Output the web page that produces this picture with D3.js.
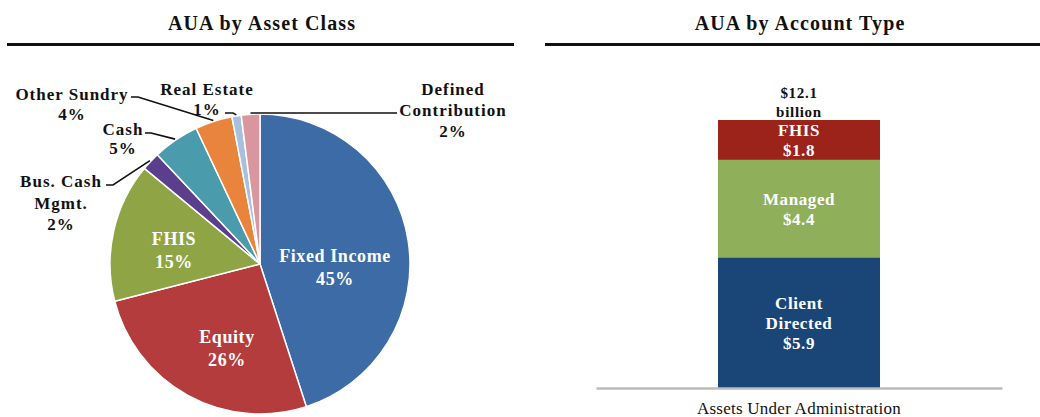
<!DOCTYPE html>
<html>
<head>
<meta charset="utf-8">
<script src="https://cdn.jsdelivr.net/npm/d3@7"></script>
<style>
  html, body { margin: 0; padding: 0; background: #fff; }
  svg { display: block; }
</style>
</head>
<body>
<svg id="chart" width="1040" height="417"></svg>
<script>
// ---- Data ----
const pieCategories = ["Fixed Income", "Equity", "FHIS", "Bus. Cash Mgmt.", "Cash", "Other Sundry", "Real Estate", "Defined Contribution"];
const pieValues = [45, 26, 15, 2, 5, 4, 1, 2];
const pieColors = ["#3d6ba6", "#b53c3c", "#8fa545", "#5b3f8c", "#4a9bab", "#e8843b", "#a8bfdd", "#d9969e"];

const barCategories = ["Client Directed", "Managed", "FHIS"];
const barValues = [5.9, 4.4, 1.8];
const barColors = ["#1a4577", "#8faf5a", "#9c2319"];
const barTotalLabel = ["$12.1", "billion"];
const barAxisLabel = "Assets Under Administration";

// ---- Layout ----
const FONT = "'Liberation Serif', 'DejaVu Serif', 'Times New Roman', serif";
const svg = d3.select("#chart");
function txt(sel, size, ls) {
  return sel.append("text").attr("font-family", FONT).attr("font-weight", "bold")
    .attr("font-size", size).attr("letter-spacing", ls || 0);
}

// Titles & rules
txt(svg, 20, 1.1).attr("x", 262).attr("y", 30).attr("text-anchor", "middle")
  .attr("fill", "#111").text("AUA by Asset Class");
txt(svg, 20, 1.1).attr("x", 800).attr("y", 30).attr("text-anchor", "middle")
  .attr("fill", "#111").text("AUA by Account Type");
svg.append("line").attr("x1", 7).attr("x2", 514).attr("y1", 44.5).attr("y2", 44.5)
  .attr("stroke", "#111").attr("stroke-width", 3);
svg.append("line").attr("x1", 545).attr("x2", 1040).attr("y1", 44.5).attr("y2", 44.5)
  .attr("stroke", "#111").attr("stroke-width", 3);

// ---- Pie ----
const cx = 260, cy = 264, R = 150;
const pie = d3.pie().sort(null).value(d => d.value);
const arcs = pie(pieCategories.map((c, i) => ({ cat: c, value: pieValues[i], color: pieColors[i] })));
const arc = d3.arc().innerRadius(0).outerRadius(R);
const g = svg.append("g").attr("transform", `translate(${cx},${cy})`);
g.selectAll("path").data(arcs).join("path")
  .attr("d", arc).attr("fill", d => d.data.color)
  .attr("stroke", "#fff").attr("stroke-width", 1.5).attr("stroke-linejoin", "round");

// inside labels (label placement layout)
const inside = {
  "Fixed Income": { lines: ["Fixed Income", "45%"], x: 335, y: 262 },
  "Equity": { lines: ["Equity", "26%"], x: 227, y: 343 },
  "FHIS": { lines: ["FHIS", "15%"], x: 174, y: 245 }
};
arcs.forEach(d => {
  const info = inside[d.data.cat];
  if (!info) return;
  const t = txt(svg, 18, 0.6).attr("text-anchor", "middle").attr("fill", "#fff");
  info.lines.forEach((l, i) => {
    t.append("tspan").attr("x", info.x).attr("y", info.y + i * 22.5).text(l);
  });
});

// outside labels (layout only: text anchor + elbow)
const outside = {
  "Bus. Cash Mgmt.": { lines: ["Bus. Cash", "Mgmt.", "2%"], tx: 61, ty: 187, lh: 21.5, elbow: [[106, 185], [113, 185]] },
  "Cash": { lines: ["Cash", "5%"], tx: 123, ty: 135, lh: 19, elbow: [[145, 133], [151, 133]] },
  "Other Sundry": { lines: ["Other Sundry", "4%"], tx: 72, ty: 100, lh: 20, elbow: [[131, 97], [138, 97]] },
  "Real Estate": { lines: ["Real Estate", "1%"], tx: 207, ty: 95, lh: 20, elbow: [[225, 113], [233, 113]] },
  "Defined Contribution": { lines: ["Defined", "Contribution", "2%"], tx: 453, ty: 95, lh: 21, elbow: [[397, 113], [252, 113]] }
};
arcs.forEach(d => {
  const info = outside[d.data.cat];
  if (!info) return;
  const a = (d.startAngle + d.endAngle) / 2;
  const px = cx + Math.sin(a) * (R + 1), py = cy - Math.cos(a) * (R + 1);
  const pts = [...info.elbow, [px, py]];
  svg.append("path").attr("d", d3.line()(pts)).attr("fill", "none")
    .attr("stroke", "#111").attr("stroke-width", 1.6);
  const t = txt(svg, 17, 1.0).attr("text-anchor", "middle").attr("fill", "#111");
  info.lines.forEach((l, i) => {
    t.append("tspan").attr("x", info.tx).attr("y", info.ty + i * info.lh).text(l);
  });
});

// ---- Stacked bar ----
const y = d3.scaleLinear().domain([0, 12.1]).range([388, 120]);
const xb = d3.scaleBand().domain([barAxisLabel]).range([596, 1002]).paddingInner(0).paddingOuter(0.753);
const bw = xb.bandwidth();
const bx = xb(barAxisLabel);
let acc = 0;
const stacks = barCategories.map((c, i) => {
  const s = { cat: c, v0: acc, v1: acc + barValues[i], color: barColors[i], value: barValues[i] };
  acc += barValues[i];
  return s;
});
svg.selectAll("rect.bar").data(stacks).join("rect").attr("class", "bar")
  .attr("x", bx).attr("width", bw)
  .attr("y", d => y(d.v1)).attr("height", d => y(d.v0) - y(d.v1))
  .attr("fill", d => d.color);

const barLabelLines = {
  "Client Directed": ["Client", "Directed"],
  "Managed": ["Managed"],
  "FHIS": ["FHIS"]
};
stacks.forEach(s => {
  const lines = [...barLabelLines[s.cat], "$" + s.value.toFixed(1)];
  const mid = (y(s.v0) + y(s.v1)) / 2;
  const lh = 20;
  const t = txt(svg, 17, 0.6).attr("text-anchor", "middle").attr("fill", "#fff");
  lines.forEach((l, i) => {
    t.append("tspan").attr("x", bx + bw / 2)
      .attr("y", mid + (i - (lines.length - 1) / 2) * lh + 6).text(l);
  });
});

// total label
const tl = txt(svg, 15, 0.7).attr("text-anchor", "middle").attr("fill", "#111");
barTotalLabel.forEach((l, i) => {
  tl.append("tspan").attr("x", bx + bw / 2).attr("y", y(acc) - 22 + i * 19).text(l);
});

// baseline axis
svg.append("g").attr("transform", `translate(0,${y(0)})`)
  .call(d3.axisBottom(xb).tickSize(0).tickFormat(""))
  .call(a => a.select(".domain").attr("stroke", "#bbb").attr("stroke-width", 2.5));
svg.append("text").attr("font-family", FONT).attr("font-weight", "normal")
  .attr("letter-spacing", 0.25)
  .attr("x", bx + bw / 2).attr("y", 414).attr("text-anchor", "middle")
  .attr("fill", "#111").attr("font-size", 17).text(barAxisLabel);
</script>
</body>
</html>
